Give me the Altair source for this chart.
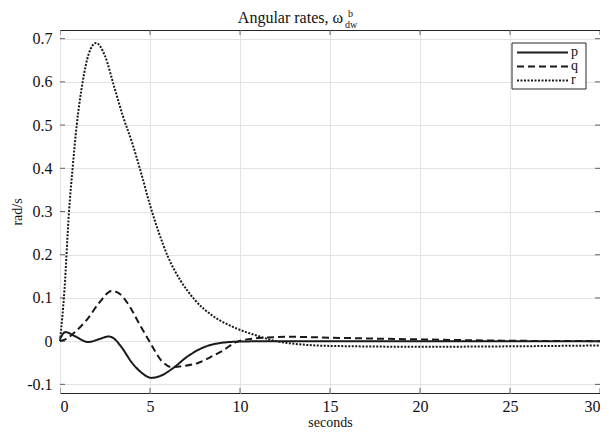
import altair as alt
import pandas as pd

# --- data ---
t_p = [0, 0.3, 0.8, 1.57, 2.2, 2.7, 3.0, 3.4, 4.0, 4.5, 5.1, 5.6, 6.2, 7.1, 8.0, 8.96, 10, 12, 15, 20, 25, 30]
v_p = [0.005, 0.021, 0.012, -0.002, 0.005, 0.011, 0.006, -0.013, -0.05, -0.072, -0.085, -0.08, -0.065, -0.035,
       -0.014, -0.004, -0.001, 0, 0, 0, 0, 0]

t_q = [0, 0.3, 0.8, 1.5, 2.2, 2.87, 3.3, 3.72, 4.46, 5.0, 5.65, 6.2, 6.8, 7.7, 8.5, 9.0, 9.8, 11, 12.8, 15, 20, 25, 30]
v_q = [0.0, 0.004, 0.02, 0.05, 0.09, 0.116, 0.11, 0.09, 0.036, -0.003, -0.046, -0.06, -0.058, -0.05, -0.034,
       -0.023, -0.002, 0.007, 0.01, 0.008, 0.004, 0.001, 0.0]

t_r = [0, 0.25, 0.5, 0.7, 0.93, 1.26, 1.6, 2.0, 2.5, 3.0, 3.5, 4.0, 4.5, 5.0, 5.5, 6.0, 6.7, 7.5, 8.5, 9.5,
       10.4, 11, 12, 13, 15, 20, 25, 30]
v_r = [0.0, 0.12, 0.3, 0.4, 0.5, 0.6, 0.665, 0.69, 0.66, 0.59, 0.52, 0.46, 0.39, 0.315, 0.25, 0.195, 0.14,
       0.095, 0.058, 0.035, 0.02, 0.012, 0.0, -0.006, -0.011, -0.013, -0.012, -0.01]

series_names = ["p", "q", "r"]
series_dash = [[1, 0], [7, 4], [2, 1.5]]
x_ticks = [0, 5, 10, 15, 20, 25, 30]
y_ticks = [-0.1, 0, 0.1, 0.2, 0.3, 0.4, 0.5, 0.6, 0.7]

rows = []
for name, ts, vs in zip(series_names, [t_p, t_q, t_r], [v_p, v_q, v_r]):
    for t, v in zip(ts, vs):
        rows.append({"t": t, "v": v, "s": name})
df = pd.DataFrame(rows)

W, H = 540, 363
FONT = "Liberation Serif"
FS = 16
INK = "#262626"
LINE = "#1a1a1a"

xs = alt.Scale(domain=[0, 30], nice=False, zero=False)
ys = alt.Scale(domain=[-0.12, 0.72], nice=False, zero=False)

ylab = "datum.value == 0 ? '0' : (datum.value < 0 ? '-' + format(-datum.value, '.1f') : format(datum.value, '.1f'))"

lines = alt.Chart(df).mark_line(interpolate="monotone", strokeWidth=2, color=LINE).encode(
    x=alt.X("t:Q", scale=xs, title="seconds",
            axis=alt.Axis(values=x_ticks, grid=True, labelPadding=5, titlePadding=1, tickSize=0,
                          domain=False, titleFontSize=14)),
    y=alt.Y("v:Q", scale=ys, title="rad/s",
            axis=alt.Axis(values=y_ticks, grid=True, labelExpr=ylab, labelPadding=8, titlePadding=2,
                          tickSize=0, domain=False, titleFontSize=14)),
    strokeDash=alt.StrokeDash("s:N", scale=alt.Scale(domain=series_names, range=series_dash), legend=None),
)

tick_df = pd.DataFrame({"xt": x_ticks})
ytick_df = pd.DataFrame({"yt": y_ticks})

xt_bottom = alt.Chart(tick_df).mark_tick(color=INK, size=10, thickness=1, orient="vertical", clip=True).encode(
    x=alt.X("xt:Q", scale=xs), y=alt.value(H))
xt_top = alt.Chart(tick_df).mark_tick(color=INK, size=10, thickness=1, orient="vertical", clip=True).encode(
    x=alt.X("xt:Q", scale=xs), y=alt.value(0))
yt_left = alt.Chart(ytick_df).mark_tick(color=INK, size=10, thickness=1, orient="horizontal", clip=True).encode(
    y=alt.Y("yt:Q", scale=ys), x=alt.value(0))
yt_right = alt.Chart(ytick_df).mark_tick(color=INK, size=10, thickness=1, orient="horizontal", clip=True).encode(
    y=alt.Y("yt:Q", scale=ys), x=alt.value(W))

# title with super/subscript
title_main = alt.Chart(pd.DataFrame({"a": ["Angular rates, ω"]})).mark_text(
    font=FONT, fontSize=FS, align="right", baseline="middle", color="#111").encode(
    text="a:N", x=alt.value(283), y=alt.value(-12))
title_sup = alt.Chart(pd.DataFrame({"a": ["b"]})).mark_text(
    font=FONT, fontSize=10, align="left", baseline="middle", color="#111").encode(
    text="a:N", x=alt.value(288), y=alt.value(-16))
title_sub = alt.Chart(pd.DataFrame({"a": ["dw"]})).mark_text(
    font=FONT, fontSize=10, align="left", baseline="middle", color="#111").encode(
    text="a:N", x=alt.value(285), y=alt.value(-5))

# legend drawn by hand (box, line samples, labels)
leg_box = alt.Chart(pd.DataFrame({"k": [0]})).mark_rect(fill="white", stroke=INK, strokeWidth=1).encode(
    x=alt.value(452), x2=alt.value(526), y=alt.value(13), y2=alt.value(59))
leg_lines = []
leg_texts = []
for i, (name, dash) in enumerate(zip(series_names, series_dash)):
    yy = 22.5 + i * 14
    one = pd.DataFrame({"s": [name]})
    leg_lines.append(alt.Chart(one).mark_rule(color=LINE, strokeWidth=2, strokeDash=dash).encode(
        x=alt.value(457), x2=alt.value(508), y=alt.value(yy)))
    leg_texts.append(alt.Chart(one).mark_text(font=FONT, fontSize=14, align="left", baseline="middle",
                                              color="#111").encode(
        text="s:N", x=alt.value(511), y=alt.value(yy - 1)))

chart = alt.layer(lines, xt_bottom, xt_top, yt_left, yt_right, title_main, title_sup, title_sub,
                  leg_box, *leg_lines, *leg_texts).properties(
    width=W, height=H,
    autosize=alt.AutoSizeParams(type="none"),
    padding={"left": 52, "top": 22, "right": 0, "bottom": 36},
).configure_view(stroke=INK, strokeWidth=1).configure_axis(
    labelFont=FONT, titleFont=FONT, labelFontSize=FS, titleFontSize=FS, labelColor="#111", titleColor="#111",
    titleFontWeight="normal", gridColor="#e3e3e3", gridWidth=1
)

chart.save("out.html", embed_options={"renderer": "svg", "actions": False})
